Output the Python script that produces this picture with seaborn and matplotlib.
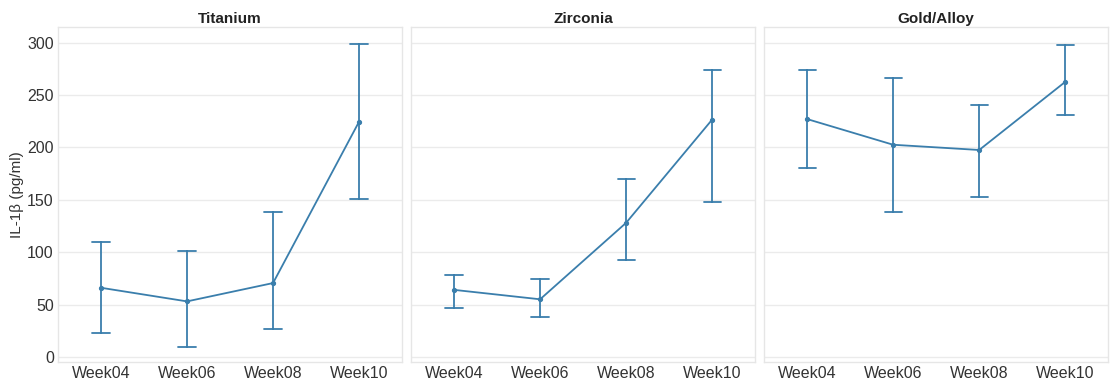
import numpy as np
import pandas as pd
import matplotlib
matplotlib.use("Agg")
import matplotlib.pyplot as plt
import seaborn as sns

# IL-1beta levels per implant material and visit: mean with lower/upper CI bounds
materials = ["Titanium", "Zirconia", "Gold/Alloy"]
weeks = ["Week04", "Week06", "Week08", "Week10"]

titanium_mean = [66.0, 53.0, 70.5, 224.5]
titanium_low = [22.5, 9.0, 26.5, 151.0]
titanium_high = [109.5, 101.0, 138.0, 299.0]

zirconia_mean = [64.0, 55.0, 128.0, 226.5]
zirconia_low = [46.5, 38.0, 92.5, 148.0]
zirconia_high = [78.5, 74.5, 170.0, 273.5]

gold_mean = [227.0, 202.5, 197.5, 262.5]
gold_low = [180.0, 138.0, 153.0, 231.0]
gold_high = [273.5, 266.5, 240.0, 298.0]

series = {
    "Titanium": (titanium_low, titanium_mean, titanium_high),
    "Zirconia": (zirconia_low, zirconia_mean, zirconia_high),
    "Gold/Alloy": (gold_low, gold_mean, gold_high),
}

# Long table: for each cell the low, mean and high values, so that the median
# is the mean and the full percentile interval spans the CI.
rows = []
for mat in materials:
    lo, mu, hi = series[mat]
    for w, a, b, c in zip(weeks, lo, mu, hi):
        for v in (a, b, c):
            rows.append({"material": mat, "week": w, "value": v})
df = pd.DataFrame(rows)

sns.set_theme(style="whitegrid")
plt.rcParams["font.family"] = ["Liberation Sans", "DejaVu Sans"]

color = "#3a7eac"
fig = plt.figure(figsize=(11.11, 3.81), dpi=100)

left, width, gap = 0.0522, 0.3097, 0.0081
bottom, top = 0.050, 0.930
axes = []
for i, mat in enumerate(materials):
    ax = fig.add_axes([left + i * (width + gap), bottom, width, top - bottom],
                      sharey=axes[0] if axes else None)
    axes.append(ax)
    sub = df[df["material"] == mat]
    sns.pointplot(data=sub, x="week", y="value", order=weeks, ax=ax,
                  estimator="median", errorbar=("pi", 100),
                  color=color, capsize=0.2, linewidth=1.3, err_kws={"linewidth": 1.3},
                  markersize=2.8, marker="o")
    ax.set_title(mat, fontsize=11, fontweight="bold", pad=2.5, color="#222222")
    ax.set_xlabel("")
    ax.set_xlim(-0.5, 3.5)
    ax.set_ylim(-4.8, 315.2)
    ax.set_yticks([0, 50, 100, 150, 200, 250, 300])
    ax.grid(axis="x", visible=False)
    ax.grid(axis="y", color="#ebebeb", linewidth=1.0)
    for s in ax.spines.values():
        s.set_color("#e6e6e6")
        s.set_linewidth(1.0)
    ax.tick_params(axis="both", labelsize=11.5, colors="#333333", length=0, pad=3)
    if i == 0:
        ax.set_ylabel("IL-1β (pg/ml)", fontsize=11, color="#333333", labelpad=2)
    else:
        ax.set_ylabel("")
        ax.tick_params(axis="y", labelleft=False)

fig.savefig("out.png", dpi=100)
